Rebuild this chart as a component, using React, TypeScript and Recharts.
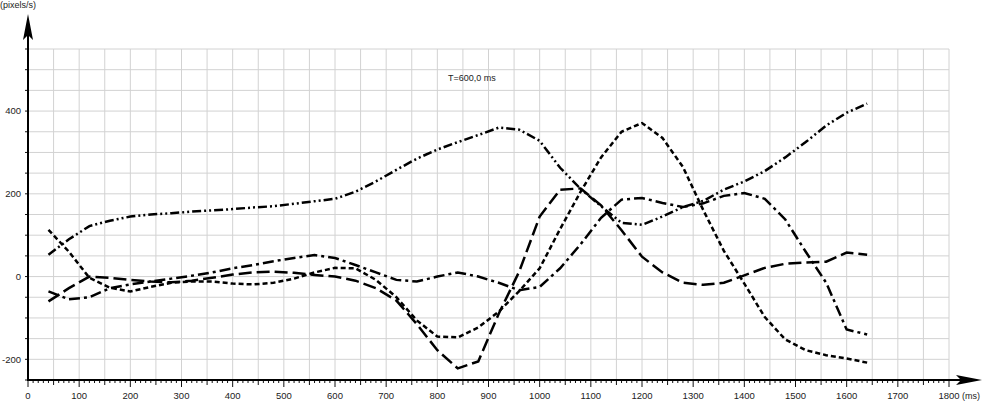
import { LineChart, Line, XAxis, YAxis, CartesianGrid, ReferenceLine } from 'recharts'

// time samples (ms)
const TIME_MS = [
  40, 80, 120, 160, 200, 240, 280, 320, 360, 400,
  440, 480, 520, 560, 600, 640, 680, 720, 760, 800,
  840, 880, 920, 960, 1000, 1040, 1080, 1120, 1160, 1200,
  1240, 1280, 1320, 1360, 1400, 1440, 1480, 1520, 1560, 1600,
  1640,
]

// velocities (pixels/s)
const SERIES_A = [
  53, 90, 122, 135, 145, 150, 153, 157, 160, 163,
  167, 170, 176, 182, 188, 205, 230, 258, 285, 307,
  325, 342, 360, 355, 328, 263, 212, 170, 130, 125,
  145, 168, 183, 210, 230, 255, 288, 325, 365, 396,
  418,
]
const SERIES_B = [
  113, 60, -3, -27, -36, -25, -15, -12, -12, -17,
  -19, -15, -5, 10, 21, 20, -8, -50, -106, -145,
  -147, -123, -85, -35, 20, 115, 205, 288, 350, 371,
  335, 265, 160, 62, -17, -98, -152, -178, -190, -198,
  -208,
]
const SERIES_D = [
  -36, -55, -50, -28, -19, -12, -5, 2, 10, 20,
  28, 37, 45, 52, 45, 28, 10, -8, -12, 0,
  10, 0, -15, -33, -25, 20, 78, 142, 186, 190,
  178, 168, 177, 195, 202, 188, 138, 60, -15, -128,
  -140,
]
const SERIES_E = [
  -60, -28, 0, -3, -8, -12, -14, -10, -3, 5,
  10, 12, 9, 4, 0, -10, -28, -58, -115, -178,
  -222, -205, -90, 12, 145, 210, 213, 172, 112, 48,
  10, -15, -20, -15, 3, 21, 31, 34, 36, 58,
  53,
]

const X_LABELS = [0, 100, 200, 300, 400, 500, 600, 700, 800, 900, 1000, 1100, 1200, 1300, 1400, 1500, 1600, 1700, 1800]
const Y_LABELS = [-200, 0, 200, 400]

const xMinor: number[] = []
for (let v = 0; v <= 1800; v += 10) xMinor.push(v)
const xGrid: number[] = []
for (let v = 50; v <= 1800; v += 50) xGrid.push(v)
const yTicks: number[] = []
for (let v = -250; v <= 550; v += 50) yTicks.push(v)

const data = TIME_MS.map((t, i) => ({
  t,
  a: SERIES_A[i],
  b: SERIES_B[i],
  d: SERIES_D[i],
  e: SERIES_E[i],
}))

const W = 984
const H = 402
const LEFT = 28
const RIGHT = 949
const TOP = 49
const BOTTOM = 380
const FONT = '"Liberation Sans", Arial, sans-serif'

const XTick = ({ x, y, payload }: any) => {
  const v = payload.value
  const len = v % 100 === 0 ? 7 : v % 50 === 0 ? 5 : 3
  return (
    <g>
      <line x1={x} y1={y} x2={x} y2={y + len} stroke="#111" strokeWidth={1} />
      {X_LABELS.includes(v) && (
        <text x={x} y={y + 19} textAnchor="middle" fontSize={9.5} fill="#222" fontFamily={FONT}>
          {v}
        </text>
      )}
    </g>
  )
}

export default function App() {
  return (
    <div style={{ position: 'absolute', left: 0, top: 0, width: W, height: H, background: '#fff' }}>
      <LineChart
        width={W}
        height={H}
        data={data}
        margin={{ top: TOP, right: W - RIGHT, bottom: 0, left: 0 }}
      >
        <CartesianGrid vertical={false} stroke="#d2d2d2" strokeWidth={1} />
        {xGrid.map((v) => (
          <ReferenceLine key={v} x={v} stroke="#d2d2d2" strokeWidth={1} />
        ))}
        <XAxis
          dataKey="t"
          type="number"
          domain={[0, 1800]}
          ticks={xMinor}
          interval={0}
          height={H - BOTTOM}
          axisLine={false}
          tickLine={false}
          tickSize={0}
          tickMargin={0}
          tick={<XTick />}
        />
        <YAxis
          type="number"
          domain={[-250, 550]}
          ticks={yTicks}
          interval={0}
          width={LEFT}
          axisLine={false}
          tickSize={3}
          tickMargin={4}
          tickLine={{ stroke: '#111' }}
          tick={{ fontSize: 9.5, fill: '#222', fontFamily: FONT }}
          tickFormatter={(v: number) => (Y_LABELS.includes(v) ? String(v) : '')}
        />
        <Line type="linear" dataKey="a" stroke="#000" strokeWidth={2.5} strokeDasharray="9 3 2 3 2 3" dot={false} isAnimationActive={false} />
        <Line type="linear" dataKey="b" stroke="#000" strokeWidth={2.5} strokeDasharray="5 3" dot={false} isAnimationActive={false} />
        <Line type="linear" dataKey="d" stroke="#000" strokeWidth={2.5} strokeDasharray="11 4 3 4" dot={false} isAnimationActive={false} />
        <Line type="linear" dataKey="e" stroke="#000" strokeWidth={2.5} strokeDasharray="13 5" dot={false} isAnimationActive={false} />
      </LineChart>
      <svg width={W} height={H} style={{ position: 'absolute', left: 0, top: 0, pointerEvents: 'none' }}>
        {/* axes with arrows */}
        <line x1={LEFT} y1={BOTTOM + 1} x2={LEFT} y2={34} stroke="#000" strokeWidth={2} />
        <polygon points={`${LEFT},14 ${LEFT - 5},40 ${LEFT},35 ${LEFT + 5},40`} fill="#000" />
        <line x1={LEFT - 1} y1={BOTTOM} x2={962} y2={BOTTOM} stroke="#000" strokeWidth={2} />
        <polygon points={`982,${BOTTOM} 956,${BOTTOM - 5} 961,${BOTTOM} 956,${BOTTOM + 5}`} fill="#000" />
        <text x={0} y={8} fontSize={9} fill="#222" fontFamily={FONT}>(pixels/s)</text>
        <text x={962} y={399} fontSize={9} fill="#222" fontFamily={FONT}>(ms)</text>
        <text x={448} y={81} fontSize={9} fill="#222" fontFamily={FONT}>T=600,0 ms</text>
      </svg>
    </div>
  )
}
